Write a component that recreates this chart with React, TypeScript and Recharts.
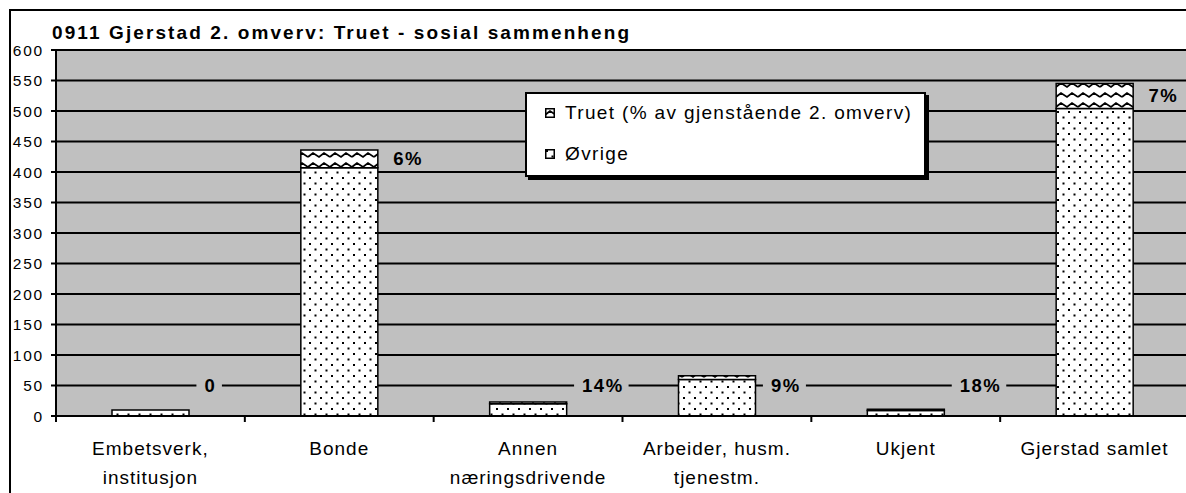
import { ComposedChart, Bar, Line, XAxis, YAxis, CartesianGrid, LabelList } from 'recharts'

const categories = [
  'Embetsverk,\ninstitusjon',
  'Bonde',
  'Annen\nnæringsdrivende',
  'Arbeider, husm.\ntjenestm.',
  'Ukjent',
  'Gjerstad samlet',
]
const ovrige = [10, 407, 20, 60, 9, 504]
const truet = [0, 29, 3, 6, 2, 41]
const labelPos = [50, 422, 50, 50, 50, 525]
const labelText = ['0', '6%', '14%', '9%', '18%', '7%']
const yTicks = [0, 50, 100, 150, 200, 250, 300, 350, 400, 450, 500, 550, 600]

const data = categories.map((name, i) => ({
  name,
  ovrige: ovrige[i],
  truet: truet[i],
  pos: labelPos[i],
}))

const FONT = '"Liberation Sans", Arial, sans-serif'
const CHART_W = 1200
const CHART_H = 493
const Y_W = 56
const M_RIGHT = 11
const BAND = (CHART_W - Y_W - M_RIGHT) / categories.length

const CatTick = (props: any) => {
  const { x, y, payload } = props
  const lines = String(payload.value).split('\n')
  const bx = x - BAND / 2
  return (
    <g>
      <line x1={bx} y1={y - 8} x2={bx} y2={y - 2} stroke="#000" strokeWidth={2} />
      {lines.map((l, i) => (
        <text key={i} x={x} y={y + 31 + i * 29} textAnchor="middle" fontSize={19}
          fontFamily={FONT} fill="#000" style={{ letterSpacing: 1 }}>
          {l}
        </text>
      ))}
    </g>
  )
}

const ValTick = (props: any) => {
  const { x, y, payload } = props
  return (
    <text x={x + 2} y={y} dy="0.36em" textAnchor="end" fontSize={15.5} fontFamily={FONT}
      fill="#000" style={{ letterSpacing: 1.8 }}>
      {payload.value}
    </text>
  )
}

const PctLabel = (props: any) => {
  const { x, y, index } = props
  const t = labelText[index]
  const w = t.split('').reduce((s, c) => s + (c === '%' ? 17.5 : 11.5), 0)
  const tx = x + 54
  return (
    <g>
      <rect x={tx - 8} y={y - 10} width={w + 14} height={20} fill="#C0C0C0" />
      <text x={tx} y={y} dy="0.36em" fontSize={18.5} fontWeight="bold" fontFamily={FONT}
        fill="#000" style={{ letterSpacing: 1.5 }}>
        {t}
      </text>
    </g>
  )
}

const Swatch = ({ fill }: { fill: string }) => (
  <svg width={10} height={10} style={{ display: 'block' }}>
    <rect x={0.75} y={0.75} width={8.5} height={8.5} fill={fill} stroke="#000" strokeWidth={1.5} />
  </svg>
)

export default function App() {
  return (
    <div style={{ position: 'absolute', left: 0, top: 0, width: 1186, height: 493, overflow: 'hidden', background: '#fff' }}>
      <div style={{ position: 'absolute', left: 9, top: 9, width: 1300, height: 600, border: '2px solid #000' }} />
      <div style={{ position: 'absolute', left: 0, top: 0 }}>
        <ComposedChart width={CHART_W} height={CHART_H} data={data}
          margin={{ top: 50, right: M_RIGHT, left: 0, bottom: 0 }}>
          <defs>
            <pattern id="dots" patternUnits="userSpaceOnUse" width={11} height={11}>
              <rect width={11} height={11} fill="#fff" />
              <rect x={1} y={1} width={2} height={2} fill="#000" />
              <rect x={6.5} y={6.5} width={2} height={2} fill="#000" />
            </pattern>
            <pattern id="wave" patternUnits="userSpaceOnUse" width={22} height={10}>
              <rect width={22} height={10} fill="#fff" />
              <path d="M0 7 L5 3 L11 7 L16 3 L22 7" fill="none" stroke="#000" strokeWidth={1.8} />
            </pattern>
          </defs>
          <CartesianGrid vertical={false} stroke="#000" strokeWidth={2} fill="#C0C0C0" fillOpacity={1} />
          <XAxis dataKey="name" interval={0} height={77} tickLine={false} tickSize={6} tickMargin={2}
            axisLine={{ stroke: '#000', strokeWidth: 2 }} tick={<CatTick />} />
          <YAxis width={Y_W} domain={[0, 600]} ticks={yTicks} interval={0} tickSize={5} tickMargin={9}
            axisLine={{ stroke: '#000', strokeWidth: 2 }} tickLine={{ stroke: '#000', strokeWidth: 2 }}
            tick={<ValTick />} />
          <Bar dataKey="ovrige" stackId="a" barSize={77} fill="url(#dots)" stroke="#000" strokeWidth={1.5}
            isAnimationActive={false} />
          <Bar dataKey="truet" stackId="a" barSize={77} fill="url(#wave)" stroke="#000" strokeWidth={1.5}
            isAnimationActive={false} />
          <Line dataKey="pos" stroke="none" dot={false} activeDot={false} isAnimationActive={false}>
            <LabelList dataKey="pos" content={<PctLabel />} />
          </Line>
        </ComposedChart>
      </div>
      <div style={{ position: 'absolute', left: 23, top: 23, fontFamily: FONT, fontSize: 19, lineHeight: '19px',
        fontWeight: 'bold', letterSpacing: 2.1, color: '#000', paddingLeft: 29 }}>
        0911 Gjerstad 2. omverv: Truet - sosial sammenheng
      </div>
      <div style={{ position: 'absolute', left: 525, top: 92, width: 397, height: 81, background: '#fff',
        border: '2px solid #000', boxShadow: '3px 3px 0 #000', fontFamily: FONT, fontSize: 19, letterSpacing: 1.35 }}>
        <div style={{ position: 'absolute', left: 18, top: 8, display: 'flex', alignItems: 'center', gap: 10 }}>
          <Swatch fill="url(#wave)" />
          <span>Truet (% av gjenstående 2. omverv)</span>
        </div>
        <div style={{ position: 'absolute', left: 18, top: 49, display: 'flex', alignItems: 'center', gap: 10 }}>
          <Swatch fill="url(#dots)" />
          <span>Øvrige</span>
        </div>
      </div>
    </div>
  )
}
